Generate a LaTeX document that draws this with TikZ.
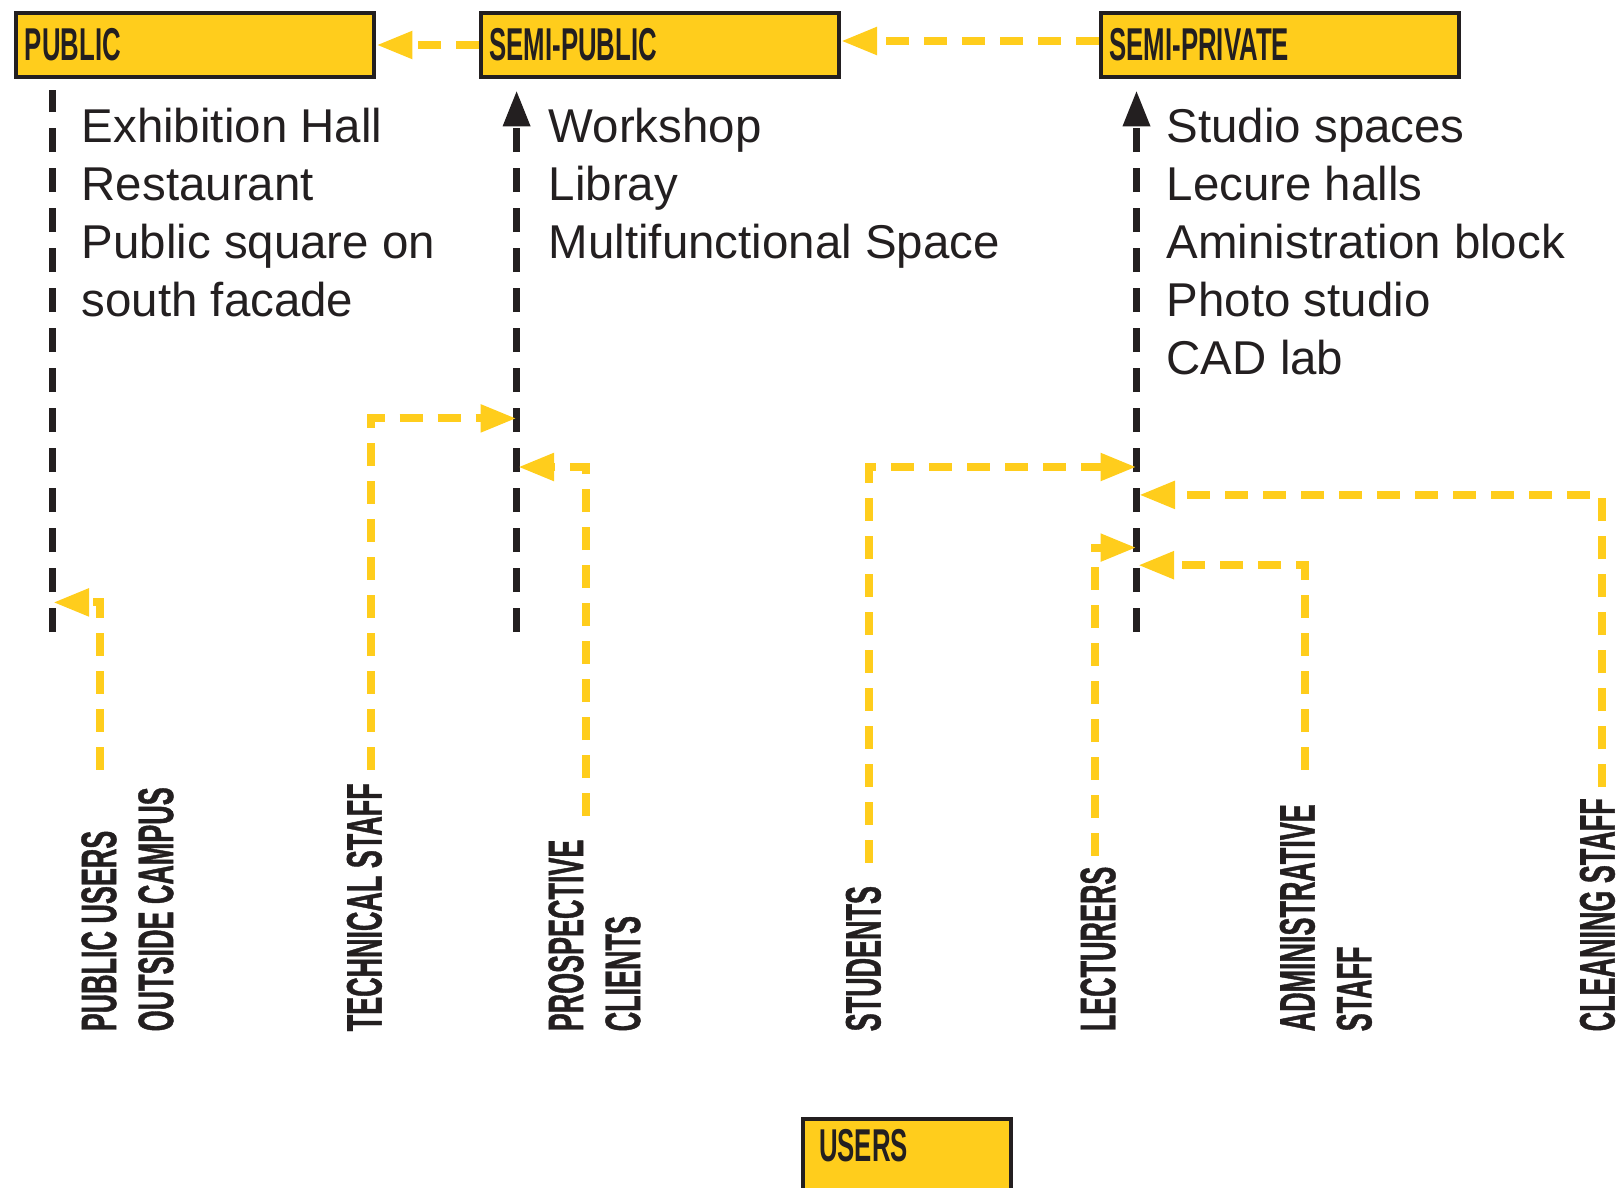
\documentclass[tikz,border=0pt]{standalone}
\usepackage{fontspec}
\setmainfont{Liberation Sans}
\newfontfamily\zonefont[FakeStretch=0.56]{Liberation Sans}
\newfontfamily\tagfont[FakeStretch=0.54, FakeBold=0.8]{Liberation Sans}
\usetikzlibrary{arrows.meta}
\definecolor{ink}{RGB}{35,31,32}
\definecolor{gold}{RGB}{255,205,28}
\tikzset{zone/.style = {draw=ink, line width=0.4mm, fill=gold, anchor=north west,
    minimum height=6.4mm, inner xsep=0.85mm, inner ysep=1mm, text width=34.1mm,
    align=left, text=ink, font=\zonefont\bfseries\fontsize{13.1}{15}\selectfont}}
\tikzset{roomlist/.style = {anchor=base west, inner sep=0, align=left, text=ink,
    font=\fontsize{13.5}{16.5}\selectfont}}
\tikzset{tag/.style = {rotate=90, anchor=north west, inner sep=0, align=left, text=ink,
    font=\tagfont\bfseries\fontsize{14.2}{16.2}\selectfont}}
\tikzset{spine/.style = {draw=ink, line width=0.7mm, dash pattern=on 2.4mm off 1.6mm,
    shorten >=1.15mm}}
\tikzset{flow/.style = {draw=gold, line width=0.8mm, dash pattern=on 2.3mm off 1.5mm,
    -{Triangle[length=3.6mm,width=2.6mm]}}}
\tikzset{up/.style = {-{Triangle[length=3.6mm,width=2.6mm]}}}

\begin{document}
\begin{tikzpicture}[x=0.1mm, y=-0.1mm]
  \useasboundingbox (0,0) rectangle (1620,1188);

  % zones
  \node[zone] (pub) at (14.4,11) {PUBLIC};
  \node[zone] (semipub) at (479,11) {SEMI-PUBLIC};
  \node[zone] (semipriv) at (1099,11) {SEMI-PRIVATE};
  \node[zone, text width=17.6mm, inner xsep=1.6mm, text depth=5mm] (users) at (801,1117) {USERS};

  \draw[flow] (semipub.west) -- (pub.east);
  \draw[flow] ([yshift=0.4mm]semipriv.west) -- ([yshift=0.4mm]semipub.east);

  % rooms in each zone (base is the last line)
  \node[roomlist] (publist) at (81,316.5) {Exhibition Hall\\Restaurant\\Public square on\\south facade};
  \node[roomlist] (semipublist) at (548,258.5) {Workshop\\Libray\\Multifunctional Space};
  \node[roomlist] (semiprivlist) at (1166,374.5) {Studio spaces\\Lecure halls\\Aministration block\\Photo studio\\CAD lab};

  \coordinate (pubfoot) at (52,632);
  \coordinate (semipubfoot) at (516.6,632);
  \coordinate (semiprivfoot) at (1136.5,632);
  \draw[spine] (pubfoot) -- (pubfoot |- pub.south);
  \draw[spine, up] (semipubfoot) -- (semipubfoot |- semipub.south);
  \draw[spine, up] (semiprivfoot) -- (semiprivfoot |- semipriv.south);

  % user groups
  \node[tag] (pubusers) at (80.6,1032) {PUBLIC USERS\\OUTSIDE CAMPUS};
  \node[tag] (techstaff) at (346,1032) {TECHNICAL STAFF};
  \node[tag] (clients) at (547.6,1032) {PROSPECTIVE\\CLIENTS};
  \node[tag] (students) at (845,1032) {STUDENTS};
  \node[tag] (lecturers) at (1079.7,1032) {LECTURERS};
  \node[tag] (adminstaff) at (1279,1032) {ADMINISTRATIVE\\STAFF};
  \node[tag] (cleaners) at (1579,1032) {CLEANING STAFF};

  \foreach \who/\fx/\fy/\tx/\ty in {pubusers/100.2/769.7/53/602.4,
      techstaff/370.9/769.7/516.6/418.4, clients/585.8/816.2/518/467,
      students/868.9/862.7/1136.5/467, lecturers/1095.2/855.5/1136.5/547.6,
      adminstaff/1304.9/769.7/1138/565.2, cleaners/1601.5/787.3/1139/494.9} {
    \coordinate (\who-foot) at (\fx,\fy);
    \coordinate (\who-tip) at (\tx,\ty);
    \draw[flow] (\who-foot) |- (\who-tip);
  }
\end{tikzpicture}
\end{document}
